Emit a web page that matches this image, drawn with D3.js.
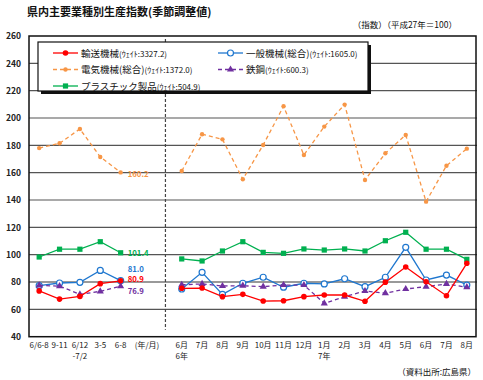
<!DOCTYPE html>
<html>
<head>
<meta charset="utf-8">
<script src="https://cdn.jsdelivr.net/npm/d3@7"></script>
<style>
  body { margin: 0; background: #fff; }
  text { font-family: "Noto Sans CJK JP", "Noto Sans", sans-serif; }
</style>
</head>
<body>
<div id="chart"></div>
<script>
// x slots: 5 quarterly points, a label slot, a gap slot, then 15 months
const periods = ["6/6-8", "9-11", "6/12", "3-5", "6-8", "(年/月)", "",
  "6月", "7月", "8月", "9月", "10月", "11月", "12月", "1月", "2月", "3月", "4月", "5月", "6月", "7月", "8月"];
const subLabels = { 2: "-7/2", 7: "6年", 14: "7年" };
const yTicks = [40, 60, 80, 100, 120, 140, 160, 180, 200, 220, 240, 260];

// quarterly (left block) and monthly (right block) values
const transportQ = [73.5, 67.5, 69.5, 78.8, 80.9];
const transportM = [75.4, 75.6, 69.3, 71.0, 66.1, 66.3, 69.3, 70.5, 70.5, 65.9, 79.9, 91.0, 80.2, 70.0, 93.7];
const generalQ = [77.3, 79.3, 79.8, 88.5, 81.0];
const generalM = [74.9, 87.1, 71.0, 79.1, 83.5, 76.2, 79.1, 78.6, 82.4, 76.6, 83.5, 105.4, 81.5, 85.1, 77.8];
const electricQ = [178.0, 181.5, 192.0, 171.5, 160.2];
const electricM = [161.2, 188.1, 184.4, 155.2, 180.3, 208.6, 172.9, 193.7, 209.8, 154.7, 174.2, 187.6, 138.8, 165.1, 177.6];
const steelQ = [77.5, 77.0, 71.0, 73.2, 76.9];
const steelM = [78.0, 78.6, 77.1, 77.3, 76.6, 77.8, 77.8, 64.4, 69.3, 73.4, 71.8, 74.9, 76.6, 78.6, 76.2];
const plasticQ = [98.3, 104.0, 104.0, 109.5, 101.4];
const plasticM = [96.9, 95.4, 102.7, 109.5, 101.7, 101.0, 104.2, 103.4, 104.2, 102.7, 110.2, 116.4, 104.0, 104.0, 96.6];

const series = [
  { name: "輸送機械", weight: "(ｳｪｲﾄ:3327.2)", q: transportQ, m: transportM, color: "#ff0000", dash: null, marker: "dot", labelDy: 1.2 },
  { name: "一般機械(総合)", weight: "(ｳｪｲﾄ:1605.0)", q: generalQ, m: generalM, color: "#1f77cf", dash: null, marker: "ring", labelDy: -8.8 },
  { name: "電気機械(総合)", weight: "(ｳｪｲﾄ:1372.0)", q: electricQ, m: electricM, color: "#f79646", dash: "4,3", marker: "small", labelDy: 5 },
  { name: "鉄鋼", weight: "(ｳｪｲﾄ:600.3)", q: steelQ, m: steelM, color: "#7030a0", dash: "4,3", marker: "tri", labelDy: 7.4 },
  { name: "プラスチック製品", weight: "(ｳｪｲﾄ:504.9)", q: plasticQ, m: plasticM, color: "#00b050", dash: null, marker: "square", labelDy: 3 }
];

const width = 483, height = 380;
const svg = d3.select("#chart").append("svg")
  .attr("width", width).attr("height", height);

const xScale = d3.scaleBand().domain(d3.range(periods.length)).range([29, 477]);
const yScale = d3.scaleLinear().domain([40, 260]).range([336.7, 36]);
const cx = (i) => xScale(i) + xScale.bandwidth() / 2;

// title
svg.append("text").attr("x", 27).attr("y", 16)
  .attr("font-size", 11).attr("font-weight", "bold").attr("fill", "#111")
  .text("県内主要業種別生産指数(季節調整値)");
svg.append("text").attr("x", 457).attr("y", 28).attr("text-anchor", "end")
  .attr("font-size", 8.5).attr("fill", "#111")
  .text("（指数）（平成27年＝100）");

// grid
svg.append("g").selectAll("line").data(yTicks.slice(1, -1)).enter().append("line")
  .attr("x1", 29).attr("x2", 477)
  .attr("y1", (d) => yScale(d)).attr("y2", (d) => yScale(d))
  .attr("stroke", (d) => d === 80 ? "#999" : "#555")
  .attr("stroke-width", (d) => d === 80 ? 2 : 1.2);

// y axis labels
const yAxis = d3.axisLeft(yScale).tickValues(yTicks).tickSize(0).tickPadding(8);
svg.append("g").attr("id", "y-axis")
  .attr("transform", "translate(29,0)")
  .call(yAxis)
  .call((g) => g.select(".domain").remove())
  .selectAll("text").attr("font-size", 8.5).attr("font-weight", "bold").attr("fill", "#222")
  .attr("font-family", "Liberation Sans, Arial, sans-serif");

// x axis labels
const xAxis = d3.axisBottom(xScale).tickSize(0).tickPadding(5).tickFormat((i) => periods[i]);
const xg = svg.append("g").attr("id", "x-axis")
  .attr("transform", "translate(0,337)")
  .call(xAxis);
xg.select(".domain").remove();
xg.selectAll("text").attr("font-size", 8).attr("fill", "#222")
  .attr("dx", (i) => i === 5 ? 6 : 0);
xg.selectAll(".tick").filter((i) => subLabels[i]).append("text")
  .attr("y", 16).attr("dy", "0.71em").attr("font-size", 8).attr("fill", "#222")
  .attr("text-anchor", "middle").text((i) => subLabels[i]);

// divider between blocks
const divX = xScale(6) + xScale.bandwidth() * 0.7;
svg.append("line").attr("x1", divX).attr("x2", divX)
  .attr("y1", yScale(260) + 3).attr("y2", yScale(45))
  .attr("stroke", "#444").attr("stroke-width", 1.2).attr("stroke-dasharray", "3,2");

// plot frame
svg.append("rect").attr("x", 29).attr("y", yScale(260))
  .attr("width", 477 - 29 - 1).attr("height", yScale(40) - yScale(260))
  .attr("fill", "none").attr("stroke", "#111").attr("stroke-width", 1.5);

const line = d3.line().x((d) => cx(d.i)).y((d) => yScale(d.v));

function marker(g, s, x, y) {
  if (s.marker === "dot") {
    g.append("circle").attr("cx", x).attr("cy", y).attr("r", 2.8).attr("fill", s.color);
  } else if (s.marker === "ring") {
    g.append("circle").attr("cx", x).attr("cy", y).attr("r", 3)
      .attr("fill", "#fff").attr("stroke", s.color).attr("stroke-width", 1.2);
  } else if (s.marker === "small") {
    g.append("circle").attr("cx", x).attr("cy", y).attr("r", 2.2).attr("fill", s.color);
  } else if (s.marker === "tri") {
    g.append("path").attr("d", d3.symbol(d3.symbolTriangle, 22))
      .attr("transform", `translate(${x},${y})`).attr("fill", s.color);
  } else {
    g.append("rect").attr("x", x - 2.6).attr("y", y - 2.6)
      .attr("width", 5.2).attr("height", 5.2).attr("fill", s.color);
  }
}

const plot = svg.append("g").attr("id", "lines");
const order = [2, 4, 1, 3, 0];
order.forEach((k) => {
  const s = series[k];
  const g = plot.append("g");
  const left = s.q.map((v, j) => ({ i: j, v }));
  const right = s.m.map((v, j) => ({ i: j + 7, v }));
  [left, right].forEach((pts) => {
    g.append("path").datum(pts).attr("d", line)
      .attr("fill", "none").attr("stroke", s.color).attr("stroke-width", 1.3)
      .attr("stroke-dasharray", s.dash);
  });
  left.concat(right).forEach((d) => marker(g, s, cx(d.i), yScale(d.v)));
  // end value label of quarterly block
  const last = left[left.length - 1];
  g.append("text").attr("x", cx(last.i) + 7).attr("y", yScale(last.v) + s.labelDy)
    .attr("font-size", 7.8).attr("font-weight", "bold").attr("fill", s.color)
    .attr("font-family", "Liberation Sans, Arial, sans-serif")
    .text(last.v.toFixed(1));
});

// legend
const lg = svg.append("g").attr("id", "legend");
lg.append("rect").attr("x", 41).attr("y", 45).attr("width", 330).attr("height", 49).attr("fill", "#111");
lg.append("rect").attr("x", 38).attr("y", 42).attr("width", 330).attr("height", 49)
  .attr("fill", "#fff").attr("stroke", "#111").attr("stroke-width", 1.2);
const legPos = [[53, 53], [218, 53], [53, 69.5], [218, 69.5], [53, 86]];
series.forEach((s, k) => {
  const [lx, ly] = legPos[k];
  const g = lg.append("g");
  g.append("line").attr("x1", lx).attr("x2", lx + 25).attr("y1", ly).attr("y2", ly)
    .attr("stroke", s.color).attr("stroke-width", 1.3).attr("stroke-dasharray", s.dash);
  marker(g, s, lx + 12.5, ly);
  const t = g.append("text").attr("x", lx + 28).attr("y", ly + 3.5).attr("fill", "#111");
  t.append("tspan").attr("font-size", 9.5).text(s.name);
  t.append("tspan").attr("font-size", 8).text(s.weight);
});

// source
svg.append("text").attr("x", 476).attr("y", 375).attr("text-anchor", "end")
  .attr("font-size", 8.5).attr("fill", "#111").text("（資料出所:広島県）");
</script>
</body>
</html>
